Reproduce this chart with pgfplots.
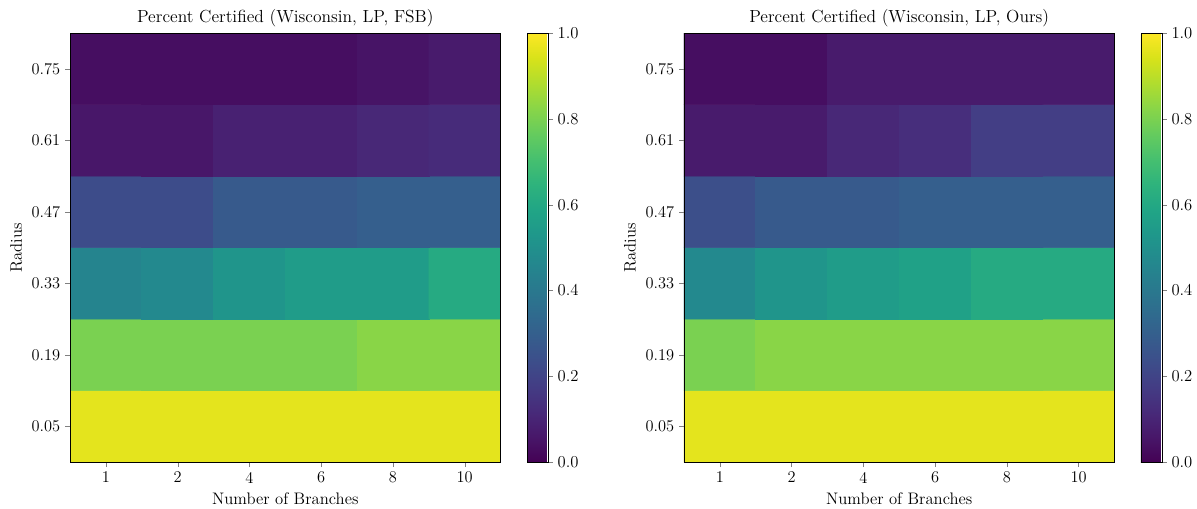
\documentclass[border=0pt]{standalone}
\usepackage{pgfplots}
\pgfplotsset{compat=1.18}
\usepackage{pgfplotstable}

\pgfplotstableread{
x y c
0 0 0.96
1 0 0.96
2 0 0.96
3 0 0.96
4 0 0.96
5 0 0.96
0 1 0.80
1 1 0.80
2 1 0.80
3 1 0.80
4 1 0.825
5 1 0.825
0 2 0.45
1 2 0.47
2 2 0.52
3 2 0.55
4 2 0.55
5 2 0.61
0 3 0.23
1 3 0.23
2 3 0.28
3 3 0.28
4 3 0.30
5 3 0.30
0 4 0.06
1 4 0.06
2 4 0.09
3 4 0.09
4 4 0.11
5 4 0.12
0 5 0.035
1 5 0.035
2 5 0.035
3 5 0.035
4 5 0.05
5 5 0.07
}\fsb

\pgfplotstableread{
x y c
0 0 0.96
1 0 0.96
2 0 0.96
3 0 0.96
4 0 0.96
5 0 0.96
0 1 0.80
1 1 0.825
2 1 0.825
3 1 0.825
4 1 0.825
5 1 0.825
0 2 0.47
1 2 0.52
2 2 0.55
3 2 0.57
4 2 0.61
5 2 0.61
0 3 0.24
1 3 0.28
2 3 0.28
3 3 0.30
4 3 0.30
5 3 0.30
0 4 0.07
1 4 0.07
2 4 0.11
3 4 0.13
4 4 0.18
5 4 0.18
0 5 0.035
1 5 0.035
2 5 0.07
3 5 0.07
4 5 0.07
5 5 0.07
}\ours

\newcommand{\lblfont}{\fontsize{12}{14}\selectfont}
\newcommand{\tckfont}{\fontsize{11.8}{14}\selectfont}

\pgfplotsset{
  heat/.style={
    scale only axis,
    width=310pt, height=309pt,
    xmin=-0.5, xmax=5.5, ymin=-0.5, ymax=5.5,
    xtick={0,...,5}, xticklabels={1,2,4,6,8,10},
    ytick={0,...,5}, yticklabels={0.05,0.19,0.33,0.47,0.61,0.75},
    tick align=outside, tick pos=left,
    major tick length=3.5pt,
    tick label style={font=\tckfont},
    label style={font=\lblfont},
    xlabel={Number of Branches}, ylabel={Radius},
    colormap name=viridis,
    point meta min=0, point meta max=1,
    axis on top,
    title style={font=\fontsize{12.6}{15}\selectfont, yshift=-5pt},
    colorbar,
    colorbar style={
      width=15pt,
      at={(parent axis.north east)}, anchor=north west, xshift=10.5pt,
      ytick={0,0.2,...,1.0},
      ytick pos=right,
      yticklabel style={font=\tckfont, /pgf/number format/.cd, fixed, fixed zerofill, precision=1},
      tick align=outside, major tick length=3.5pt,
    },
  },
}

\begin{document}
\begin{tikzpicture}
\useasboundingbox (-50.4pt,-33pt) rectangle (811.4pt,332.8pt);
\begin{axis}[heat, title={Percent Certified (Wisconsin, LP, FSB)}]
  \addplot[matrix plot*, mesh/cols=6, point meta=explicit] table[x=x, y=y, meta=c] {\fsb};
\end{axis}
\begin{axis}[heat, at={(442pt,0)}, title={Percent Certified (Wisconsin, LP, Ours)}]
  \addplot[matrix plot*, mesh/cols=6, point meta=explicit] table[x=x, y=y, meta=c] {\ours};
\end{axis}
\end{tikzpicture}
\end{document}
